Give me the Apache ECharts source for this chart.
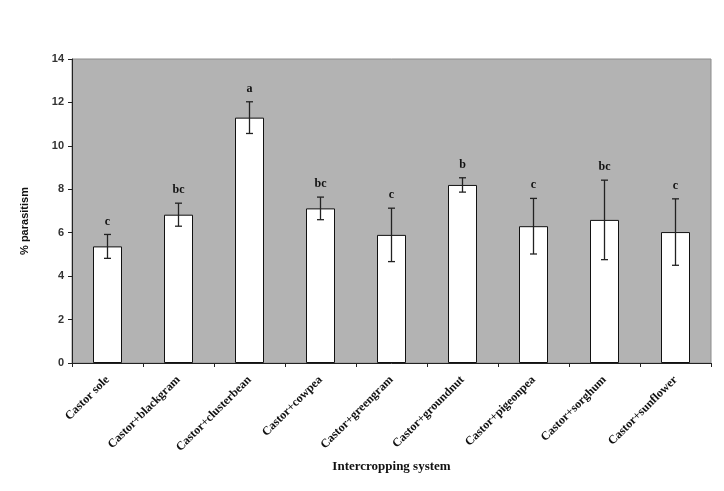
<!DOCTYPE html>
<html><head><meta charset="utf-8">
<script src="https://cdn.jsdelivr.net/npm/echarts@6/dist/echarts.min.js"></script>
<style>html,body{margin:0;padding:0;background:#fff;}#c{width:724px;height:491px;}</style>
</head><body><div id="c"></div>
<script>
var categories = ['Castor sole','Castor+blackgram','Castor+clusterbean','Castor+cowpea','Castor+greengram','Castor+groundnut','Castor+pigeonpea','Castor+sorghum','Castor+sunflower'];
var values = [5.37, 6.83, 11.3, 7.12, 5.9, 8.2, 6.3, 6.59, 6.03];
var errors = [0.55, 0.53, 0.73, 0.52, 1.23, 0.33, 1.28, 1.83, 1.53];
var letters = ['c','bc','a','bc','c','b','c','bc','c'];
var yTicks = [0,2,4,6,8,10,12,14];

var chart = echarts.init(document.getElementById('c'));
var errData = values.map(function(v,i){return [i, v, errors[i], letters[i]];});
chart.setOption({
  animation:false,
  backgroundColor:'#fff',
  grid:{left:72,right:13,top:59,bottom:128,show:true,backgroundColor:'#b3b3b3',borderColor:'#8c8c8c',borderWidth:1},
  xAxis:{type:'category',data:categories,
    name:'Intercropping system',nameLocation:'middle',nameGap:97,
    nameTextStyle:{fontFamily:'Liberation Serif',fontWeight:'bold',fontSize:13,color:'#111'},
    axisLine:{lineStyle:{color:'#222',width:1}},
    axisTick:{show:true,length:4,lineStyle:{color:'#222'}},
    axisLabel:{rotate:45,interval:0,margin:15,fontFamily:'Liberation Serif',fontWeight:'bold',fontSize:12,color:'#111'}},
  yAxis:{type:'value',min:0,max:14,interval:2,
    name:'% parasitism',nameLocation:'middle',nameGap:42,
    nameTextStyle:{fontFamily:'Liberation Sans',fontWeight:'bold',fontSize:11,color:'#111',padding:[0,20,0,0]},
    axisLine:{show:true,lineStyle:{color:'#222'}},
    axisTick:{show:true,length:4,lineStyle:{color:'#222'}},
    splitLine:{show:false},
    axisLabel:{fontFamily:'Liberation Sans',fontWeight:'bold',fontSize:11,color:'#333',margin:8,
      formatter:function(v){return yTicks.indexOf(v)>=0?String(v):'';}}},
  series:[
    {type:'bar',data:values,barWidth:29,itemStyle:{color:'#fff',borderColor:'#111',borderWidth:1}},
    {type:'custom',data:errData,z:10,
     renderItem:function(params,api){
       var i=api.value(0),v=api.value(1),e=api.value(2);
       var top=api.coord([i,v+e]),bot=api.coord([i,v-e]);
       var x=top[0],hw=3.5;
       var s={stroke:'#222',lineWidth:1.3};
       return {type:'group',children:[
         {type:'line',shape:{x1:x,y1:top[1],x2:x,y2:bot[1]},style:s},
         {type:'line',shape:{x1:x-hw,y1:top[1],x2:x+hw,y2:top[1]},style:s},
         {type:'line',shape:{x1:x-hw,y1:bot[1],x2:x+hw,y2:bot[1]},style:s},
         {type:'text',x:x,y:top[1]-7,style:{text:letters[i],textAlign:'center',textVerticalAlign:'bottom',
           font:'bold 12px "Liberation Serif"',fill:'#111'}}
       ]};
     }}
  ]
});
</script></body></html>
